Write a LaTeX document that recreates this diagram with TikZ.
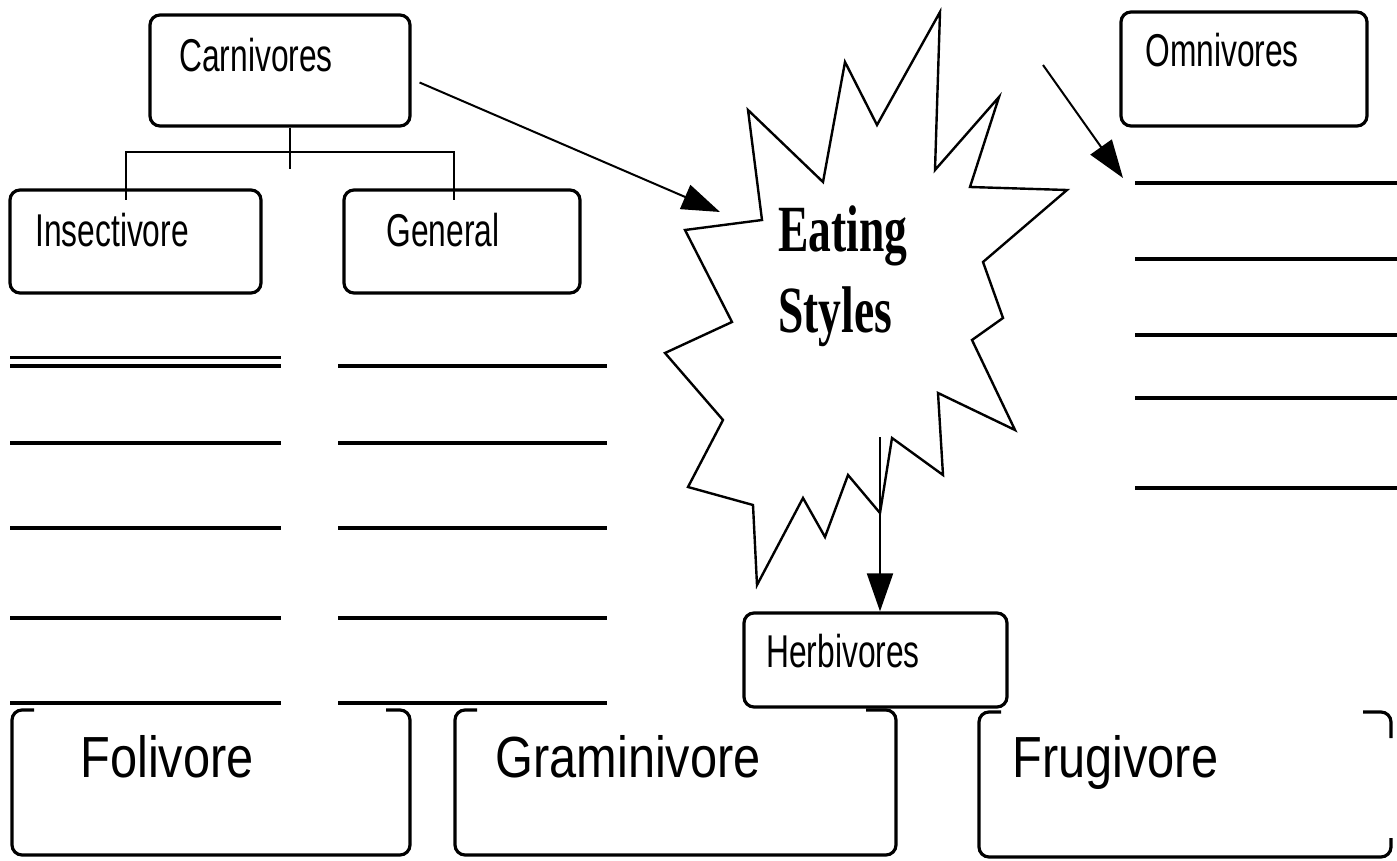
\documentclass[tikz,border=0pt]{standalone}
\usepackage{fontspec}
\setmainfont{Liberation Serif}
\setsansfont{Liberation Sans}
\usetikzlibrary{arrows.meta}
\tikzset{>={Triangle[width=13pt,length=19pt]}}
\tikzset{
  box/.style={draw=black, line width=1.6pt, rounded corners=5pt, inner sep=0pt},
  lbl/.style={font=\sffamily\fontsize{23}{25}\selectfont, inner sep=0pt, anchor=base west},
  big/.style={font=\sffamily\fontsize{29}{32}\selectfont, inner sep=0pt, anchor=base west},
  title/.style={font=\bfseries\fontsize{33}{36}\selectfont, inner sep=0pt, anchor=base west},
  rule/.style={line width=2pt},
  arr/.style={->, line width=1pt},
  burst/.style={draw=black, line width=1.2pt, line join=miter},
}
\newcommand{\narrowtext}[2][0.69]{\scalebox{#1}[1]{#2}}

\begin{document}
\begin{tikzpicture}[x=0.5pt, y=-0.5pt]
    \useasboundingbox (0,0) rectangle (1397,861);
    % boxes
    \node[box, minimum width=130pt, minimum height=55.5pt] (carn) at (280,70.5) {};
    \node[box, minimum width=125.5pt, minimum height=51.5pt] (insect) at (135.5,241.5) {};
    \node[box, minimum width=118pt, minimum height=51.5pt] (gen) at (462,241.5) {};
    \node[box, minimum width=123pt, minimum height=57pt] (omni) at (1244,69) {};
    \node[box, minimum width=131.5pt, minimum height=47pt] (herb) at (875.5,660) {};
    \node[lbl] (carnT) at (179,72) {\narrowtext{Carnivores}};
    \node[lbl] (insectT) at (35,247) {\narrowtext{Insectivore}};
    \node[lbl] (genT) at (386,247) {\narrowtext{General}};
    \node[lbl] (omniT) at (1145,67) {\narrowtext{Omnivores}};
    \node[lbl] (herbT) at (766,667) {\narrowtext{Herbivores}};
    % burst
    \draw[burst] (685,230) -- (762,220) -- (748,110) -- (823,182) -- (845,62)
      -- (877,125) -- (940,12) -- (935,170) -- (999,97) -- (970,187)
      -- (1067,190) -- (983,262) -- (1003,318) -- (972,340) -- (1015,430)
      -- (938,393) -- (943,475) -- (892,438) -- (880,513) -- (848,475)
      -- (825,537) -- (803,498) -- (757,585) -- (753,505) -- (688,487)
      -- (723,420) -- (665,353) -- (732,322) -- cycle;
    \node[title] (eat) at (778,252) {\narrowtext[0.69]{Eating}};
    \node[title] (sty) at (778,332) {\narrowtext[0.69]{Styles}};
    % tree
    \coordinate (fork) at (290,152);
    \draw[line width=1.2pt] (fork |- carn.south) -- ++(0,41);
    \draw[line width=1.2pt] (126,200) |- (fork) -| (454,200);
    % arrows
    \coordinate (cin) at (720,212);
    \coordinate (sin) at (880,437);
    \coordinate (oin) at (1043,65);
    \coordinate (oend) at (1123,178);
    \draw[arr] ([xshift=4pt, yshift=-6pt]carn.east) -- (cin);
    \draw[arr] (sin) -- (sin |- herb.north);
    \draw[arr] (oin) -- (oend);
    % lines
    \draw[line width=1.5pt] (10,357) -- (281,357);
    \foreach \y in {366,443,528,618,703} {
      \draw[rule] (10,\y) -- (281,\y);
      \draw[rule] (338,\y) -- (607,\y);
    }
    \foreach \y in {183,259,335,398,488}
      \draw[rule] (1135,\y) -- (1397,\y);
    % bottom boxes
    \draw[line width=1.6pt, rounded corners=5pt] (34,710) -- (12,710) -- (12,855) -- (410,855) -- (410,710) -- (386,710);
    \draw[line width=1.6pt, rounded corners=5pt] (477,710) -- (455,710) -- (455,855) -- (896,855) -- (896,710) -- (866,710);
    \draw[line width=1.6pt, rounded corners=5pt] (1001,712) -- (979,712) -- (979,857) -- (1391,857) -- (1391,838);
    \draw[line width=1.6pt, rounded corners=5pt] (1363,712) -- (1391,712) -- (1391,738);
    \node[big] (foli) at (80,777) {\narrowtext[0.84]{Folivore}};
    \node[big] (gram) at (495,777) {\narrowtext[0.84]{Graminivore}};
    \node[big] (frug) at (1012,777) {\narrowtext[0.84]{Frugivore}};
\end{tikzpicture}
\end{document}
